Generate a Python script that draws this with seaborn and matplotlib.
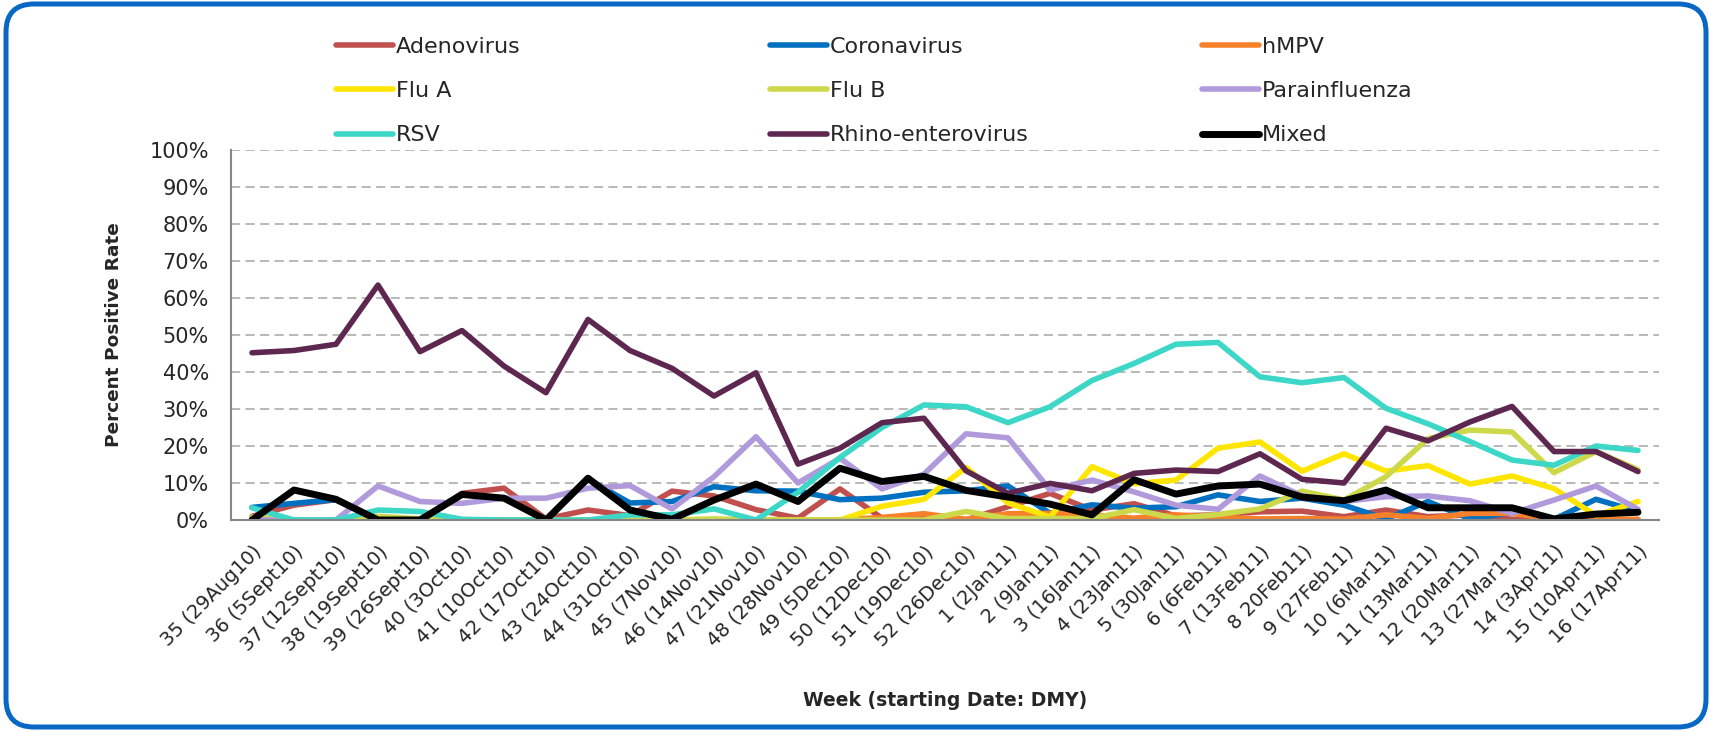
import numpy as np
import pandas as pd
import matplotlib
matplotlib.use("Agg")
import matplotlib.pyplot as plt
import matplotlib.transforms as mtransforms
from matplotlib.patches import FancyBboxPatch
from matplotlib.ticker import PercentFormatter
import seaborn as sns

# ---- data: weekly percent positive rate (%) by virus ----
weeks = [
    "35 (29Aug10)", "36 (5Sept10)", "37 (12Sept10)", "38 (19Sept10)", "39 (26Sept10)",
    "40 (3Oct10)", "41 (10Oct10)", "42 (17Oct10)", "43 (24Oct10)", "44 (31Oct10)",
    "45 (7Nov10)", "46 (14Nov10)", "47 (21Nov10)", "48 (28Nov10)", "49 (5Dec10)",
    "50 (12Dec10)", "51 (19Dec10)", "52 (26Dec10)", "1 (2Jan11)", "2 (9Jan11)",
    "3 (16Jan11)", "4 (23Jan11)", "5 (30Jan11)", "6 (6Feb11)", "7 (13Feb11)",
    "8 20Feb11)", "9 (27Feb11)", "10 (6Mar11)", "11 (13Mar11)", "12 (20Mar11)",
    "13 (27Mar11)", "14 (3Apr11)", "15 (10Apr11)", "16 (17Apr11)",
]

adenovirus = [1.0, 4.0, 5.5, 0.0, 0.0, 7.2, 8.6, 0.3, 2.7, 1.2, 7.8, 6.5, 2.8, 0.5, 8.4, 0.5, 0.3,
              0.0, 3.6, 7.2, 2.7, 4.4, 1.1, 1.4, 2.2, 2.4, 0.9, 2.7, 0.9, 1.4, 0.2, 0.0, 0.0, 0.0]
coronavirus = [3.4, 4.5, 5.5, 0.0, 0.0, 0.0, 0.0, 0.0, 11.0, 4.6, 5.0, 9.0, 7.9, 7.8, 5.5, 5.9, 7.5,
               7.9, 9.2, 1.8, 4.1, 3.2, 3.6, 6.8, 5.0, 5.9, 4.0, 0.3, 5.0, 0.3, 2.0, 0.2, 5.6, 2.3]
hmpv = [0.0, 0.0, 0.0, 0.0, 0.0, 0.0, 0.0, 0.0, 0.0, 0.0, 0.0, 0.0, 0.0, 0.0, 0.0, 0.7, 1.7,
        0.2, 1.7, 1.8, 1.4, 0.5, 1.4, 0.7, 0.3, 0.4, 0.2, 1.4, 0.4, 1.8, 1.8, 0.2, 0.2, 0.2]
flu_a = [0.0, 0.0, 0.0, 0.0, 0.0, 0.0, 0.0, 0.0, 0.0, 0.0, 0.0, 0.0, 0.0, 0.0, 0.0, 3.7, 5.6,
         14.2, 4.6, 0.8, 14.4, 9.8, 10.8, 19.4, 21.1, 13.2, 17.9, 13.2, 14.7, 9.7, 11.9, 8.5, 1.2, 5.0]
flu_b = [0.8, 0.0, 0.0, 1.0, 0.3, 0.0, 0.0, 0.0, 0.0, 0.6, 0.0, 0.3, 0.0, 0.0, 0.0, 0.0, 0.0,
         2.3, 0.4, 0.4, 0.4, 2.8, 0.4, 1.5, 3.0, 7.8, 5.4, 11.7, 22.0, 24.3, 23.8, 12.8, 18.5, 13.6]
parainfluenza = [0.0, 0.0, 0.0, 9.2, 5.0, 4.5, 5.9, 5.9, 8.6, 9.3, 3.0, 11.7, 22.5, 10.0, 16.7, 8.4, 12.4,
                 23.3, 22.2, 8.1, 10.8, 7.6, 4.0, 2.9, 11.9, 6.5, 5.0, 6.3, 6.5, 5.2, 1.8, 5.4, 9.2, 2.9]
rsv = [3.3, 0.0, 0.0, 2.7, 2.3, 0.2, 0.0, 0.0, 0.0, 1.4, 1.4, 3.0, 0.0, 7.5, 16.9, 25.0, 31.1,
       30.6, 26.3, 30.6, 37.7, 42.3, 47.5, 48.0, 38.7, 37.1, 38.5, 30.2, 26.0, 21.2, 16.2, 14.8, 20.0, 18.8]
rhino_enterovirus = [45.2, 45.8, 47.5, 63.5, 45.5, 51.2, 41.6, 34.4, 54.2, 45.8, 41.0, 33.5, 39.8, 15.1, 19.4,
                     26.3, 27.5, 13.3, 7.2, 9.9, 7.9, 12.6, 13.5, 13.1, 17.9, 11.0, 10.0, 24.8, 21.4, 26.5,
                     30.7, 18.5, 18.5, 13.1]
mixed = [0.0, 8.1, 5.6, 0.0, 0.0, 6.9, 5.9, 0.0, 11.3, 2.7, 0.2, 5.4, 9.7, 5.0, 14.0, 10.4, 11.8,
         8.0, 6.2, 4.3, 1.4, 10.9, 7.0, 9.2, 9.7, 6.2, 5.2, 8.1, 3.3, 3.3, 3.3, 0.3, 1.6, 2.1]

virus_names = ["Adenovirus", "Coronavirus", "hMPV", "Flu A", "Flu B",
               "Parainfluenza", "RSV", "Rhino-enterovirus", "Mixed"]
virus_values = [adenovirus, coronavirus, hmpv, flu_a, flu_b,
                parainfluenza, rsv, rhino_enterovirus, mixed]
virus_colors = ["#C0504D", "#0070C0", "#F7802B", "#FFE600", "#CDD84A",
                "#B09ADB", "#3CD7C6", "#5E2750", "#000000"]

records = []
for name, vals in zip(virus_names, virus_values):
    for i, v in enumerate(vals):
        records.append({"week": i, "virus": name, "rate": v / 100.0})
df = pd.DataFrame(records)

# ---- figure ----
sns.set_style("white")
plt.rcParams["font.family"] = ["DejaVu Sans"]

W, H = 1710, 731
fig = plt.figure(figsize=(W / 100, H / 100), dpi=100)
x0, x1, y0, y1 = 231, 1659, 150, 520
ax = fig.add_axes([x0 / W, 1 - y1 / H, (x1 - x0) / W, (y1 - y0) / H])

sns.lineplot(data=df, x="week", y="rate", hue="virus", hue_order=virus_names,
             palette=dict(zip(virus_names, virus_colors)), linewidth=4.0,
             errorbar=None, legend=False, ax=ax)
for line in ax.lines:
    line.set_solid_joinstyle("round")
    line.set_solid_capstyle("round")
ax.lines[-1].set_linewidth(5.0)

ax.set_xlim(-0.5, len(weeks) - 0.5)
ax.set_ylim(0, 1)

# axes styling
axis_grey = "#868686"
for side in ("top", "right"):
    ax.spines[side].set_visible(False)
for side in ("left", "bottom"):
    ax.spines[side].set_color(axis_grey)
    ax.spines[side].set_linewidth(1.5)

ax.set_yticks(np.arange(0, 1.01, 0.1))
ax.yaxis.set_major_formatter(PercentFormatter(1.0, decimals=0))
ax.tick_params(axis="y", length=6, width=1.3, color=axis_grey, pad=10, labelsize=15)
ax.yaxis.grid(True, color="#A6A6A6", linestyle=(0, (6, 3.5)), linewidth=1.1)
ax.xaxis.grid(False)
ax.set_axisbelow(True)

ax.set_xticks(range(len(weeks)))
ax.set_xticklabels(weeks)
ax.set_xticks(np.arange(-0.5, len(weeks), 1), minor=True)
ax.tick_params(axis="x", which="major", length=0, pad=16, labelsize=14)
ax.tick_params(axis="x", which="minor", length=5, width=1.3, color=axis_grey, direction="out")
plt.setp(ax.get_xticklabels(), rotation=45, ha="right", va="top", rotation_mode="anchor")

ax.set_xlabel("Week (starting Date: DMY)", fontsize=13.5, fontweight="bold")
ax.set_ylabel("Percent Positive Rate", fontsize=13.3, fontweight="bold")
ax.xaxis.set_label_coords(0.5, (y1 - 691) / (y1 - y0))
ax.yaxis.set_label_coords((123 - x0) / (x1 - x0), 0.5)

# legend: three columns, each its own block
handles = ax.lines[:len(virus_names)]
col_x = [336, 770, 1202]
for c in range(3):
    idx = [c, c + 3, c + 6]
    fig.legend([handles[k] for k in idx], [virus_names[k] for k in idx],
               loc="center left", bbox_to_anchor=(col_x[c] / W, 1 - 91 / H),
               frameon=False, fontsize=16, handlelength=2.55, handletextpad=0.15,
               labelspacing=1.1, borderpad=0, borderaxespad=0)

# rounded chart border
border = FancyBboxPatch((6, 4), 1700, 723, boxstyle="round,pad=0,rounding_size=28",
                        transform=mtransforms.IdentityTransform(), fill=False,
                        edgecolor="#0868C4", linewidth=3.6)
fig.add_artist(border)

fig.savefig("out.png", dpi=100)
